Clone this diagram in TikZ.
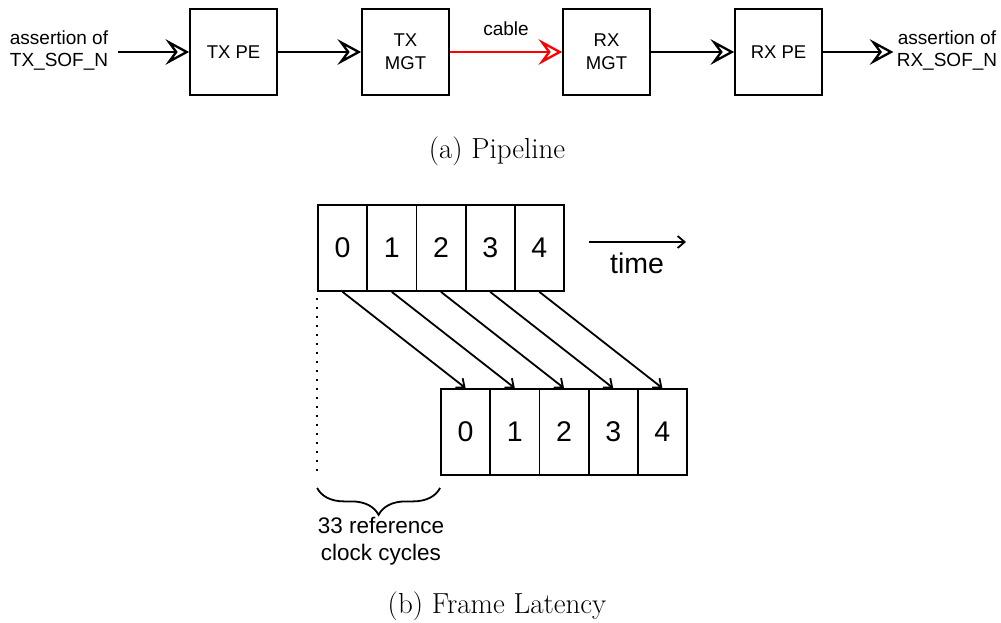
\documentclass[tikz,border=0pt]{standalone}
\usepackage{fontspec}
\newfontfamily\arial{Liberation Sans}
\usetikzlibrary{arrows.meta,decorations.pathreplacing,calc}
\tikzset{
  pebox/.style={draw,line width=2.5pt,minimum width=87pt,minimum height=86pt,inner sep=0pt,align=center,font=\arial\fontsize{18.5}{23}\selectfont},
  petext/.style={align=center,inner sep=0pt,font=\arial\fontsize{19}{22}\selectfont},
  bigline/.style={line width=2.5pt,shorten >=10pt},
  openhead/.pic={\draw[line width=2.3pt,fill=white,line join=miter,miter limit=10] (-17.5,-9.5) -- (0,0) -- (-17.5,9.5) -- (-10.5,0) -- cycle;},
  cell/.style={draw,line width=1.8pt,minimum width=49.2pt,minimum height=86pt,inner sep=0pt,font=\arial\fontsize{28.5}{30}\selectfont},
  thinarrow/.style={line width=1.8pt,-{Straight Barb[length=7pt,width=12pt,line width=1.8pt]}},
  captxt/.style={inner sep=0pt,font=\fontsize{29}{32}\selectfont},
}
\begin{document}
\begin{tikzpicture}[x=1pt,y=-1pt]
\useasboundingbox (0,0) rectangle (1001,623);
% (a) pipeline
\node[petext] (ain) at (59,51) {assertion of\\TX\_SOF\_N};
\node[pebox] (txpe) at (233.5,52) {TX PE};
\node[pebox] (txmgt) at (405.5,52) {TX\\MGT};
\node[pebox] (rxmgt) at (606.5,52) {RX\\MGT};
\node[pebox] (rxpe) at (778.5,52) {RX PE};
\node[petext] (aout) at (947,51) {assertion of\\RX\_SOF\_N};
\coordinate (ainr) at (118,52);
\coordinate (aoutl) at (891,52);
\draw[bigline] (ainr) -- (txpe.west);
\pic at ($(txpe.west)+(-2,0)$) {openhead};
\draw[bigline] (txpe.east) -- (txmgt.west);
\pic at ($(txmgt.west)+(-2,0)$) {openhead};
\draw[bigline,red] (txmgt.east) -- node[petext,black,above=15pt] (cab) {cable} (rxmgt.west);
\pic[red] at ($(rxmgt.west)+(-2,0)$) {openhead};
\draw[bigline] (rxmgt.east) -- (rxpe.west);
\pic at ($(rxpe.west)+(-2,0)$) {openhead};
\draw[bigline] (rxpe.east) -- (aoutl);
\pic at (aoutl) {openhead};
\node[captxt] (capa) at (497,151) {(a) Pipeline};
% (b) frame latency
\foreach \i in {0,...,4}{
  \node[cell] (t\i) at ({342.6+49.2*\i},248) {\i};
  \node[cell] (b\i) at ({465.6+49.2*\i},432) {\i};
}
\foreach \i in {0,...,4}{
  \draw[thinarrow] (t\i.south) -- (b\i.north);
}
\coordinate (ts) at (589,242);
\coordinate (te) at (686,242);
\draw[thinarrow] (ts) -- (te);
\node[inner sep=0pt,font=\arial\fontsize{28.5}{30}\selectfont] (time) at (637,263) {time};
\coordinate (d1) at ($(t0.south west)+(0,6)$);
\coordinate (d2) at (t0.south west |- b0.south);
\draw[line width=1.6pt,dash pattern=on 1.6pt off 7.4pt] (d1) -- (d2);
\coordinate (br1) at ($(d2)+(0,12)$);
\coordinate (br2) at ($(b0.south west)+(0,12)$);
\draw[line width=1.8pt,decorate,decoration={brace,amplitude=27pt,aspect=0.5,mirror}] (br1) -- (br2);
\node[petext,font=\arial\fontsize{22.5}{27}\selectfont] (cyc) at (381,541) {33 reference\\clock cycles};
\node[captxt] (capb) at (497,606) {(b) Frame Latency};
\end{tikzpicture}
\end{document}
